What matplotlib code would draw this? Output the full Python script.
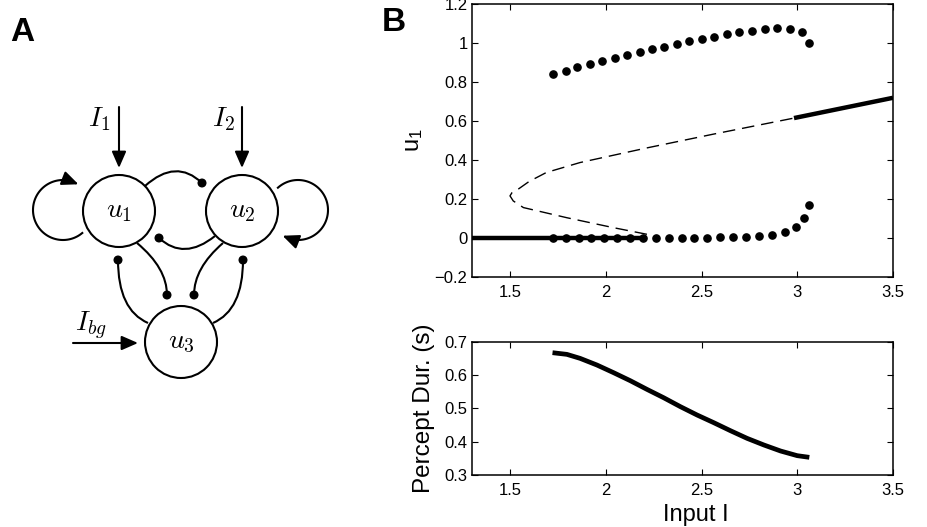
import numpy as np
import matplotlib.pyplot as plt
from matplotlib.patches import Circle, FancyArrowPatch, PathPatch
from matplotlib.path import Path

plt.rcParams['font.family'] = ['Liberation Sans', 'DejaVu Sans']
plt.rcParams['mathtext.fontset'] = 'custom'
plt.rcParams['mathtext.rm'] = 'Liberation Sans'
plt.rcParams['mathtext.it'] = 'Liberation Sans:italic'

# --- panel B data ---
stable_low_x = [1.3, 2.2]
stable_low_y = [0.0, 0.0]
stable_high_x = [2.983, 3.5]
stable_high_y = [0.615, 0.719]
unstable_x = [2.215, 2.04, 1.797, 1.57, 1.517, 1.50, 1.51, 1.535, 1.60, 1.69, 1.866, 2.215, 2.564, 2.983]
unstable_y = [0.019, 0.053, 0.104, 0.156, 0.19, 0.216, 0.232, 0.245, 0.29, 0.336, 0.387, 0.462, 0.533, 0.615]

osc_max_x = [1.722, 1.790, 1.852, 1.917, 1.981, 2.046, 2.110, 2.177, 2.241, 2.306, 2.370,
             2.437, 2.501, 2.567, 2.634, 2.698, 2.765, 2.831, 2.895, 2.962, 3.026, 3.063]
osc_max_y = [0.841, 0.858, 0.875, 0.892, 0.909, 0.923, 0.938, 0.954, 0.967, 0.981, 0.997,
             1.009, 1.022, 1.033, 1.045, 1.055, 1.063, 1.072, 1.075, 1.070, 1.055, 1.000]
osc_min_x = [1.722, 1.790, 1.859, 1.924, 1.992, 2.058, 2.126, 2.192, 2.261, 2.330, 2.397,
             2.463, 2.531, 2.597, 2.665, 2.733, 2.800, 2.869, 2.934, 2.995, 3.035, 3.063]
osc_min_y = [0.0, 0.0, 0.0, 0.0, 0.0, 0.0, 0.0, 0.0, 0.0, 0.0, 0.0,
             0.0, 0.002, 0.003, 0.005, 0.007, 0.010, 0.016, 0.030, 0.058, 0.104, 0.168]

dur_x = [1.722, 1.797, 1.866, 1.954, 2.041, 2.128, 2.215, 2.302, 2.39, 2.477, 2.564,
         2.651, 2.738, 2.826, 2.913, 3.0, 3.063]
dur_y = [0.667, 0.662, 0.65, 0.63, 0.607, 0.583, 0.557, 0.532, 0.505, 0.48, 0.457,
         0.433, 0.41, 0.39, 0.372, 0.358, 0.353]

x_ticks = [1.5, 2, 2.5, 3, 3.5]
x_ticklabels = ['1.5', '2', '2.5', '3', '3.5']
u_ticks = [-0.2, 0, 0.2, 0.4, 0.6, 0.8, 1, 1.2]
u_ticklabels = ['\u22120.2', '0', '0.2', '0.4', '0.6', '0.8', '1', '1.2']
d_ticks = [0.3, 0.4, 0.5, 0.6, 0.7]
d_ticklabels = ['0.3', '0.4', '0.5', '0.6', '0.7']

# --- panel A layout (pixel coords of the schematic) ---
nodes = {'u1': (119, 211), 'u2': (242, 211), 'u3': (181, 342)}
node_r = 36
node_labels = {'u1': r'$u_1$', 'u2': r'$u_2$', 'u3': r'$u_3$'}
inputs = [((119, 107), (119, 168), r'$I_1$', (99, 119)),
          ((242, 107), (242, 168), r'$I_2$', (223, 119)),
          ((73, 343), (138, 343), r'$I_{bg}$', (91, 326))]
# inhibitory links: start, bezier control, end (dot)
inhib = [((145, 186), (176, 158), (202, 183)),
         ((215, 236), (184, 261), (159, 238)),
         ((137, 243), (167, 268), (167, 295)),
         ((223, 243), (194, 268), (194, 295)),
         ((148, 323), (118, 310), (118, 260)),
         ((213, 323), (243, 310), (243, 260))]
# self loops: centre, radius, start angle, end angle (deg, y down)
loops = [((63, 210), 30, 50, 301), ((298, 210), 30, 228, 481)]

head = '-|>,head_length=0.55,head_width=0.24'

fig = plt.figure(figsize=(9.28, 5.27), dpi=100)

ax0 = fig.add_axes([0, 0, 380 / 928, 1])
ax0.set_xlim(0, 380)
ax0.set_ylim(527, 0)
ax0.axis('off')
lw_d = 1.5
for k, c in nodes.items():
    ax0.add_patch(Circle(c, node_r, fill=False, lw=lw_d, color='black'))
    ax0.text(c[0], c[1], node_labels[k], fontsize=20, math_fontfamily='cm',
             ha='center', va='center')
for a, b, lab, pos in inputs:
    ax0.add_patch(FancyArrowPatch(a, b, arrowstyle=head, mutation_scale=18, lw=lw_d,
                                  color='black', shrinkA=0, shrinkB=0))
    ax0.text(pos[0], pos[1], lab, fontsize=20, math_fontfamily='cm', ha='center', va='center')
for s, c, e in inhib:
    ax0.add_patch(PathPatch(Path([s, c, e], [Path.MOVETO, Path.CURVE3, Path.CURVE3]),
                            fill=False, lw=lw_d, color='black'))
    ax0.add_patch(Circle(e, 3.8, color='black'))
for c, r, t0, t1 in loops:
    th = np.radians(np.linspace(t0, t1, 80))
    lx = c[0] + r * np.cos(th)
    ly = c[1] + r * np.sin(th)
    ax0.plot(lx[:-5], ly[:-5], color='black', lw=lw_d)
    ax0.add_patch(FancyArrowPatch((lx[-7], ly[-7]), (lx[-1], ly[-1]), arrowstyle=head,
                                  mutation_scale=18, lw=lw_d, color='black',
                                  shrinkA=0, shrinkB=0))

# --- panel B ---
ax1 = fig.add_axes([471.7 / 928, 1 - 277 / 527, 421.3 / 928, 273 / 527])
ax2 = fig.add_axes([471.7 / 928, 1 - 475 / 527, 421.3 / 928, 133.3 / 527])

ax1.plot(stable_low_x, stable_low_y, color='black', lw=3.2, solid_capstyle='butt')
ax1.plot(stable_high_x, stable_high_y, color='black', lw=3.2, solid_capstyle='butt')
ax1.plot(unstable_x, unstable_y, color='black', lw=1.0, dashes=(9, 5))
ax1.plot(osc_max_x, osc_max_y, 'o', color='black', ms=5.2)
ax1.plot(osc_min_x, osc_min_y, 'o', color='black', ms=5.2)
ax1.set_xlim(1.3, 3.5)
ax1.set_ylim(-0.2, 1.2)
ax1.set_yticks(u_ticks)
ax1.set_yticklabels(u_ticklabels)
ax1.set_ylabel(r'$\mathrm{u}_\mathrm{1}$', fontsize=17)
ax1.yaxis.set_label_coords(-0.112, 0.5)

ax2.plot(dur_x, dur_y, color='black', lw=3.4, solid_capstyle='butt')
ax2.set_xlim(1.3, 3.5)
ax2.set_ylim(0.3, 0.7)
ax2.set_yticks(d_ticks)
ax2.set_yticklabels(d_ticklabels)
ax2.set_ylabel('Percept Dur. (s)', fontsize=17.5)
ax2.yaxis.set_label_coords(-0.086, 0.5)
ax2.set_xlabel('Input I', fontsize=17)
ax2.xaxis.set_label_coords(0.531, -0.22)

for ax in (ax1, ax2):
    ax.set_xticks(x_ticks)
    ax.set_xticklabels(x_ticklabels)
    ax.tick_params(direction='in', top=True, right=True, length=4, width=0.8,
                   labelsize=12, pad=3)
    ax.tick_params(axis='x', pad=6)
    for sp in ax.spines.values():
        sp.set_linewidth(1.1)

fig.text(10 / 928, 1 - 41 / 527, 'A', fontsize=24, fontweight='bold')
fig.text(382 / 928, 1 - 31 / 527, 'B', fontsize=24, fontweight='bold')

fig.savefig('out.png', dpi=100)
